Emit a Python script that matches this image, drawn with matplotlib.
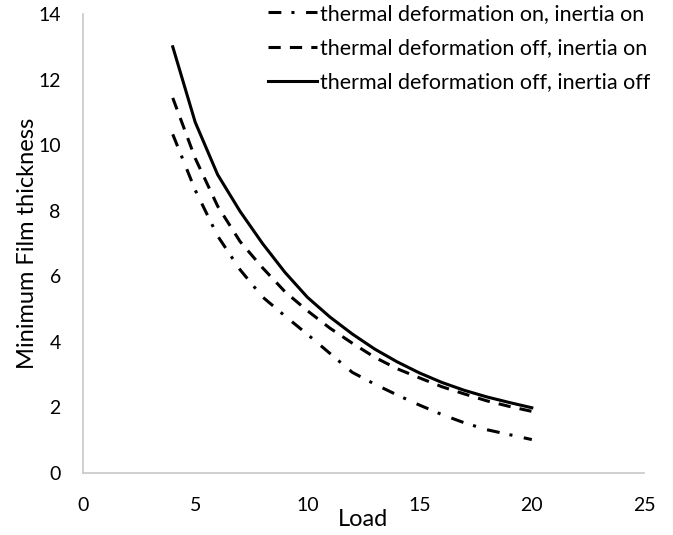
import matplotlib
matplotlib.use("Agg")
import matplotlib.pyplot as plt

plt.rcParams['font.family'] = ['Lato', 'DejaVu Sans']

load = [4, 5, 6, 7, 8, 9, 10, 11, 12, 13, 14, 15, 16, 17, 18, 19, 20]
td_on_in_on = [10.33, 8.63, 7.23, 6.2, 5.37, 4.79, 4.23, 3.65, 3.07, 2.71, 2.38, 2.07, 1.78, 1.53, 1.32, 1.17, 1.02]
td_off_in_on = [11.44, 9.6, 8.14, 7.06, 6.26, 5.53, 4.95, 4.42, 3.96, 3.53, 3.18, 2.9, 2.63, 2.41, 2.2, 2.03, 1.88]
td_off_in_off = [13.0, 10.7, 9.1, 7.98, 7.0, 6.12, 5.36, 4.76, 4.24, 3.78, 3.39, 3.05, 2.76, 2.52, 2.32, 2.15, 1.99]

labels = ["thermal deformation on, inertia on",
          "thermal deformation off, inertia on",
          "thermal deformation off, inertia off"]
xticks = [0, 5, 10, 15, 20, 25]
yticks = [0, 2, 4, 6, 8, 10, 12, 14]

fig = plt.figure(figsize=(6.73, 5.35), dpi=100)
ax = fig.add_axes([83/673, 1-473/535, (644-83)/673, (473-14)/535])

lw = 2.2
ax.plot(load, td_on_in_on, color='black', lw=lw, dashes=(4.2, 3.3, 1.0, 3.8), label=labels[0])
ax.plot(load, td_off_in_on, color='black', lw=lw, dashes=(4.0, 3.0), label=labels[1])
ax.plot(load, td_off_in_off, color='black', lw=lw, label=labels[2])

ax.set_xlim(0, 25)
ax.set_ylim(0, 14)
ax.set_xticks(xticks)
ax.set_yticks(yticks)
ax.tick_params(length=0, labelsize=14, colors='black')
ax.tick_params(axis='x', pad=17)
ax.tick_params(axis='y', pad=16)
for s in ['top', 'right']:
    ax.spines[s].set_visible(False)
for s in ['left', 'bottom']:
    ax.spines[s].set_color('#c8c8c8')
    ax.spines[s].set_linewidth(1.2)

ax.set_xlabel('Load', fontsize=17, labelpad=-3)
ax.set_ylabel('Minimum Film thickness', fontsize=17, labelpad=0)

leg = ax.legend(loc='upper right', bbox_to_anchor=(650/673, 1 - 4/535), bbox_transform=fig.transFigure,
                frameon=False, fontsize=15.5, handlelength=2.3, handletextpad=0.12,
                labelspacing=0.66, borderaxespad=0, borderpad=0)

fig.savefig('out.png', dpi=100, facecolor='white')
